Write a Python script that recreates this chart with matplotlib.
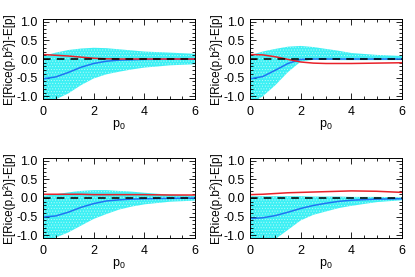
import numpy as np
import matplotlib
matplotlib.use("Agg")
import matplotlib.pyplot as plt
from matplotlib.ticker import MultipleLocator

plt.rcParams['font.family'] = ['Liberation Sans', 'DejaVu Sans']
plt.rcParams['mathtext.fontset'] = 'custom'
plt.rcParams['mathtext.rm'] = 'Liberation Sans'
plt.rcParams['mathtext.it'] = 'Liberation Sans'
plt.rcParams['mathtext.default'] = 'regular'
plt.rcParams['hatch.linewidth'] = 0.4

# sample points along p0
p0 = [0.0, 0.5, 1.0, 1.5, 2.0, 2.5, 3.0, 3.5, 4.0, 5.0, 6.0]

# top-left panel
tl_blue  = [-0.53, -0.48, -0.36, -0.22, -0.12, -0.06, -0.03, -0.02, -0.01, -0.005, 0.0]
tl_red   = [0.12, 0.10, 0.08, 0.05, 0.02, 0.005, 0.0, 0.0, 0.0, 0.0, 0.0]
tl_upper = [0.08, 0.17, 0.24, 0.28, 0.30, 0.29, 0.26, 0.23, 0.20, 0.17, 0.14]
tl_lower = [-1.2, -1.08, -0.92, -0.70, -0.52, -0.41, -0.34, -0.28, -0.23, -0.17, -0.14]

# top-right panel
tr_blue  = [-0.53, -0.47, -0.30, -0.12, -0.01, 0.0, 0.0, 0.0, 0.0, 0.0, 0.0]
tr_red   = [0.12, 0.11, 0.06, -0.01, -0.08, -0.11, -0.12, -0.12, -0.12, -0.11, -0.10]
tr_upper = [0.10, 0.20, 0.27, 0.33, 0.35, 0.32, 0.27, 0.22, 0.16, 0.11, 0.08]
tr_lower = [-1.2, -1.00, -0.70, -0.35, -0.07, -0.02, -0.02, -0.03, -0.03, -0.03, -0.03]

# bottom-left panel
bl_blue  = [-0.51, -0.48, -0.38, -0.25, -0.15, -0.08, -0.05, -0.03, -0.02, -0.01, 0.0]
bl_red   = [0.10, 0.10, 0.10, 0.10, 0.09, 0.09, 0.09, 0.09, 0.09, 0.08, 0.08]
bl_upper = [0.06, 0.10, 0.15, 0.19, 0.21, 0.21, 0.19, 0.17, 0.14, 0.09, 0.06]
bl_lower = [-1.2, -1.06, -0.92, -0.74, -0.56, -0.43, -0.31, -0.23, -0.17, -0.10, -0.07]

# bottom-right panel
br_blue  = [-0.55, -0.53, -0.47, -0.38, -0.28, -0.20, -0.14, -0.09, -0.06, -0.03, -0.02]
br_red   = [0.09, 0.10, 0.12, 0.14, 0.15, 0.16, 0.17, 0.18, 0.19, 0.18, 0.15]
br_upper = [0.05, 0.05, 0.05, 0.05, 0.05, 0.04, 0.04, 0.04, 0.03, 0.03, 0.02]
br_lower = [-1.3, -1.25, -1.1, -0.85, -0.60, -0.45, -0.36, -0.27, -0.21, -0.11, -0.06]

panels = [
    (tl_blue, tl_red, tl_upper, tl_lower),
    (tr_blue, tr_red, tr_upper, tr_lower),
    (bl_blue, bl_red, bl_upper, bl_lower),
    (br_blue, br_red, br_upper, br_lower),
]

fig = plt.figure(figsize=(4.15, 2.77), dpi=100)
W, H = 415, 277
boxes = [(43, 19), (250, 19), (43, 158), (250, 158)]   # left, top in pixels
aw, ah = 152, 80

for (blue, red, upper, lower), (lx, ty) in zip(panels, boxes):
    ax = fig.add_axes([lx / W, 1 - (ty + ah) / H, aw / W, ah / H])
    ax.fill_between(p0, lower, upper, facecolor='#3df0f4', edgecolor='#b8fafa',
                    hatch='......', linewidth=0)
    ax.plot(p0, blue, color='#1f74f2', lw=1.1)
    ax.plot(p0, red, color='#e8222a', lw=1.1)
    ax.axhline(0, color='black', lw=1.1, ls=(0, (5, 4)))
    ax.set_xlim(0, 6)
    ax.set_ylim(-1.07, 1.07)
    ax.xaxis.set_major_locator(MultipleLocator(2))
    ax.xaxis.set_minor_locator(MultipleLocator(0.5))
    ax.yaxis.set_minor_locator(MultipleLocator(0.1))
    ax.set_yticks([-1.0, -0.5, 0.0, 0.5, 1.0])
    ax.set_yticklabels(['-1.0', '-0.5', '0.0', '0.5', '1.0'])
    ax.tick_params(which='both', direction='in', top=True, right=True,
                   labelsize=9, width=0.6)
    ax.tick_params(axis='x', pad=5)
    ax.tick_params(axis='y', pad=4)
    ax.tick_params(which='major', length=4)
    ax.tick_params(which='minor', length=2)
    for s in ax.spines.values():
        s.set_linewidth(0.7)
    ax.set_xlabel('p$_0$', fontsize=9, labelpad=0)
    ax.set_ylabel('E[Rice(p,b\u00b2)]-E[p]', fontsize=8.5)
    ax.yaxis.set_label_coords(-0.181, 0.5)

fig.savefig('out.png', dpi=100)
